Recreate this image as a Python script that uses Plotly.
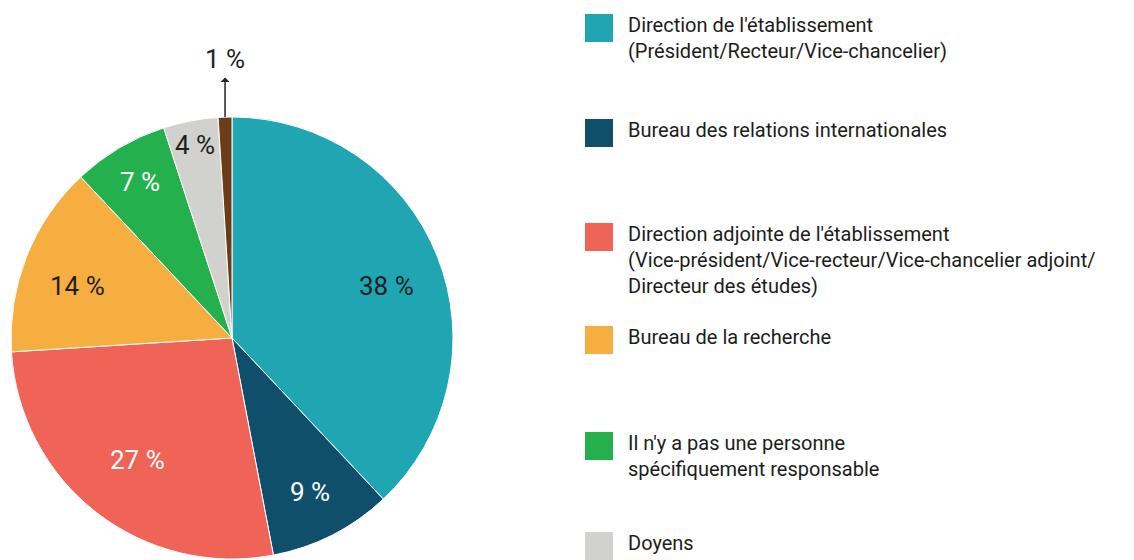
import plotly.graph_objects as go
import numpy as np

# ---- data ----
categories = [
    "Direction de l'établissement<br>(Président/Recteur/Vice-chancelier)",
    "Bureau des relations internationales",
    "Direction adjointe de l'établissement<br>(Vice-président/Vice-recteur/Vice-chancelier adjoint/<br>Directeur des études)",
    "Bureau de la recherche",
    "Il n'y a pas une personne<br>spécifiquement responsable",
    "Doyens",
    "Autre",
]
values = [38, 9, 27, 14, 7, 4, 1]

# ---- style ----
colors = ["#1fa6b2", "#0f4f6c", "#ef6456", "#f7ae40", "#24b14d", "#d1d1cd", "#6a3c17"]
text_colors = ["#1f1f1f", "#ffffff", "#ffffff", "#1f1f1f", "#ffffff", "#1f1f1f", "#1f1f1f"]
label_radius = [0.74, 0.78, 0.70, 0.74, 0.82, 0.89, None]   # None -> outside with arrow
label_angle_shift = [3, 0, 0, -3, 0, 0, 0]                   # degrees
OFF = 8                                  # default page body margin
PW, PH = 1134, 560                       # page size
W, H = PW - OFF, PH - OFF                # figure size
cx, cy, R = 232, 338, 221                # pie centre / radius (page px)
legend_sq_centres = [28, 133, 237, 340, 446, 546, 650]
FONT = "Roboto"


def px2x(px):
    return (px - OFF) / W


def py2y(py):
    return 1 - (py - OFF) / H


fig = go.Figure()
fig.add_trace(go.Pie(
    labels=categories,
    values=values,
    textinfo="none",
    sort=False,
    direction="clockwise",
    rotation=0,
    marker=dict(colors=colors, line=dict(color="white", width=1)),
    domain=dict(x=[px2x(cx - R), px2x(cx + R)], y=[py2y(cy + R), py2y(cy - R)]),
    showlegend=False,
    hoverinfo="label+percent",
))

# slice labels, positioned from the data (cumulative angles)
total = sum(values)
cum = np.cumsum([0] + values)
for i, v in enumerate(values):
    mid = (cum[i] + v / 2) / total * 2 * np.pi + np.radians(label_angle_shift[i])
    if label_radius[i] is not None:
        r = label_radius[i] * R
        fig.add_annotation(
            x=px2x(cx + r * np.sin(mid)), y=py2y(cy - r * np.cos(mid)),
            xref="paper", yref="paper", showarrow=False,
            xanchor="center", yanchor="middle",
            text=f"{v} %",
            font=dict(family=FONT, size=26, color=text_colors[i], weight=400),
        )
    else:
        fig.add_annotation(
            x=px2x(cx + R * np.sin(mid)), y=py2y(cy - R * np.cos(mid)),
            xref="paper", yref="paper",
            text=f"{v} %", showarrow=True, arrowside="start",
            arrowhead=2, arrowsize=1.7, arrowwidth=1.5, arrowcolor="#222",
            ax=0, ay=-58, startstandoff=2,
            font=dict(family=FONT, size=26, color="#1f1f1f", weight=400),
        )

# custom legend (entries beyond the page edge are cut off, as in the source)
for lab, col, yc in zip(categories, colors, legend_sq_centres):
    if yc - 14 > PH:
        continue
    fig.add_shape(type="rect", xref="paper", yref="paper",
                  x0=px2x(585), x1=px2x(613), y0=py2y(yc - 14), y1=py2y(yc + 14),
                  fillcolor=col, line=dict(width=0))
    fig.add_annotation(x=px2x(626), y=py2y(yc - 17), xref="paper", yref="paper",
                       xanchor="left", yanchor="top", align="left", showarrow=False,
                       text=lab, font=dict(family=FONT, size=20, color="#1c1c1c"))

fig.update_layout(
    width=W, height=H,
    margin=dict(l=0, r=0, t=0, b=0),
    paper_bgcolor="white", plot_bgcolor="white",
)
fig.write_html("out.html")
